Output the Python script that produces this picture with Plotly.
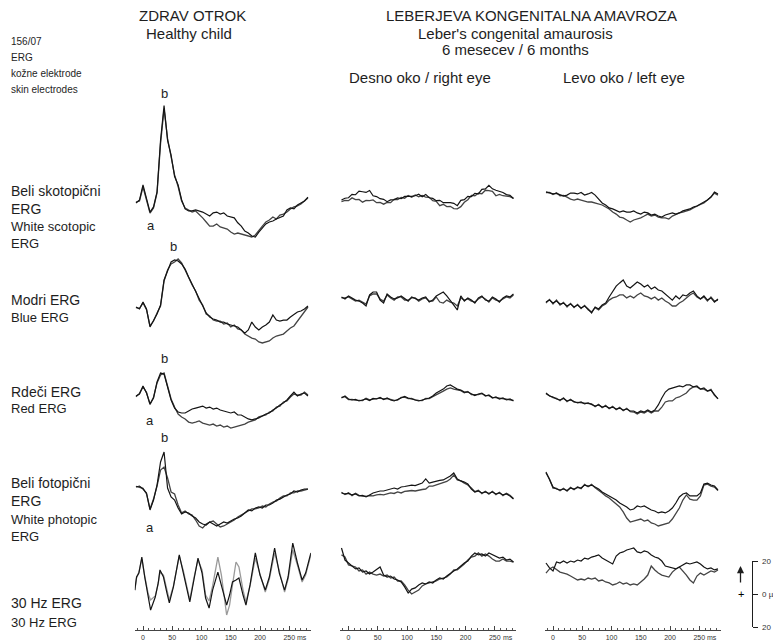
import plotly.graph_objects as go

# ---------------- data (time in ms, amplitude in microvolts) ----------------
T = list(range(-12, 283, 6))  # common sampling grid, 50 samples

# Row 1: white scotopic ERG
R1C1_A = [0, 1.8, 11, 2, -5.5, -2.4, 6.7, 38, 59, 38,
          29, 16, 11, 2, -3.6, -4.8, -4.8, -4.2, -4.8, -5.5,
          -6.7, -7.9, -6, -5.5, -6.7, -6, -7.9, -8.5, -9, -12,
          -14, -17, -18.2, -20, -20.6, -17.6, -15, -12.7, -11.5, -10.9,
          -9.7, -9, -7.9, -4.2, -3, -3.6, -1.2, 0, 1.2, 3.6]
R1C1_B = [0.6, 1.2, 9.7, 1.2, -6.1, -3, 6.1, 36, 57, 39,
          28, 17, 10, 1.2, -3, -4.2, -5.5, -4.8, -6.7, -9,
          -11.5, -14, -14, -12.7, -14.5, -15, -15.8, -17.6, -18.8, -18.2,
          -18.8, -19.4, -20, -20.6, -19.4, -16.4, -14, -11.5, -10.3, -8.5,
          -9.7, -7.3, -6.7, -5.5, -3.6, -2.4, -1.8, -0.6, 1.2, 3]
R1C2_A = [1.8, 2.9, 3.2, 5.2, 5, 7.2, 6.8, 6.4, 7.6, 4.4,
          3.9, 2.6, 2.2, 0.8, 1.9, 2.1, 3.1, 2.6, 4, 3.8,
          4, 4.4, 5.3, 3.8, 5.2, 3.2, 2.8, 1.4, 1.6, 0.2,
          0.4, 0.2, -0.2, -1.6, 1.6, 2, 4, 3.8, 5.9, 5.6,
          8.3, 8.6, 10.7, 8.6, 7.7, 6.9, 6.4, 5.1, 4.6, 2.7]
R1C2_B = [0.8, 1.6, 1.4, 3.1, 2.0, 2.2, 0.5, 1.6, 1.4, 1.9,
          0.2, 0.4, -0.7, 0.4, 0.2, 2.2, 2.0, 3.4, 2.9, 4.6,
          3.5, 4.9, 3.8, 4.6, 3.5, 3.4, 1.4, 1.0, -1.6, -0.8,
          -2.2, -2.0, -3.4, -3.5, -2.2, 0.4, 2.0, 4.6, 4.4, 5.9,
          5.6, 7.7, 7.5, 7.1, 4.4, 5.2, 4.4, 4.0, 3.8, 2.8]
R1C3_A = [6.7, 6, 5.5, 5.8, 4.8, 4.2, 4.8, 6, 6, 5.5,
          6.4, 4.8, 5.5, 6.4, 4.8, 2.4, 0, -1.2, -3, -3.6,
          -4.8, -5.5, -4.8, -5.5, -5.5, -4.8, -6, -6.7, -5.5, -6,
          -7.3, -6.7, -7.9, -8.5, -7.3, -6.7, -6, -6.7, -6, -4.8,
          -4.2, -3.6, -2.4, -1.8, -0.6, 0.6, 1.8, 3.6, 6.7, 5.5]
R1C3_B = [6.3, 6.4, 5.1, 6.2, 4.4, 4.6, 3.6, 2.4, 1.8, 2.4,
          1.8, 1.2, 0.6, 0.6, 0, -0.6, -1.2, -2.4, -3.6, -5.5,
          -6.7, -8.5, -9, -10.3, -11.5, -10.3, -9.7, -9, -7.9, -6.7,
          -7.9, -7.3, -8.5, -9, -9, -9.7, -7.9, -6.7, -6, -5.5,
          -4.8, -4.2, -3, -1.8, -0.9, 0, 1.8, 3.6, 6, 4.8]

# Row 2: blue ERG
R2C1_A = [0.6, -0.6, 3.6, -0.6, -11.5, -7.3, -3.6, 1.8, 17, 22.4,
          27.9, 29.1, 28.5, 26.7, 23.6, 18.8, 14.5, 9.7, 5.5, 1.2,
          -3, -5.5, -6.7, -7.3, -8.5, -8.5, -9.7, -10.3, -10.9, -11.5,
          -13.3, -15.2, -13.3, -8.5, -11.5, -13.3, -11.5, -10.3, -8.5, -4.2,
          -7.3, -7.9, -7.3, -7.3, -5.5, -4.2, -2.4, -1.8, -0.6, 1.2]
R2C1_B = [0.2, -0.2, 3.0, -1.0, -10.9, -7.9, -3.0, 1.2, 16.4, 23.0,
          26.7, 27.9, 29.7, 27.3, 23.0, 18.2, 13.9, 10.3, 4.8, 1.8,
          -3.6, -4.8, -7.3, -7.9, -7.9, -9.7, -9.1, -11.5, -10.3, -12.7,
          -13.3, -15.8, -17, -18.2, -18.8, -20.6, -21.2, -20.6, -20, -18.2,
          -17, -16.4, -15.8, -13.9, -12.1, -10.9, -7.9, -5.5, -2.4, 0.6]
R2C2_A = [6.7, 5.5, 7.3, 6.1, 4.8, 4.2, 3.0, 1.2, 7.9, 9.7,
          9.7, 4.8, 3.0, 8.5, 6.7, 5.5, 6.1, 7.3, 5.5, 4.2,
          6.7, 5.5, 4.8, 6.1, 6.7, 3.6, 4.8, 7.3, 8.5, 9.7,
          7.3, 4.8, 1.8, -1.2, 7.3, 4.2, 6.1, 4.8, 3.0, 6.1,
          7.3, 4.8, 4.2, 6.7, 5.5, 3.6, 6.1, 7.3, 6.7, 8.5]
R2C2_B = [6.1, 6.1, 6.7, 5.5, 4.2, 4.8, 3.6, 2.4, 7.3, 8.5,
          8.5, 5.5, 4.2, 7.9, 6.1, 4.8, 6.7, 6.7, 4.8, 4.8,
          6.1, 6.1, 4.2, 5.5, 6.1, 4.2, 4.2, 6.7, 3.6, 3.0,
          4.8, 3.6, 3.0, 1.2, 6.1, 4.8, 5.5, 4.2, 3.6, 5.5,
          6.7, 5.5, 3.6, 6.1, 4.8, 4.2, 5.5, 6.7, 6.1, 7.9]
R2C3_A = [3.6, 4.8, 3, 4.2, 2.4, 3, 1.2, 2.4, 0.6, 1.8,
          0, 1.2, -0.6, -3, 0.6, -0.6, 1.8, 3, 6.7, 10.3,
          13.3, 15.2, 17, 13.3, 12.1, 13.9, 15.8, 14.5, 12.7, 13.9,
          11.5, 12.7, 10.9, 10.3, 8.5, 6.7, 4.8, 7.3, 5.5, 7.9,
          7.3, 9.1, 10.3, 7.3, 5.5, 7.3, 4.8, 6.1, 3.6, 5.5]
R2C3_B = [3.0, 5.2, 2.4, 4.8, 1.8, 3.4, 0.6, 2.8, 0.2, 2.2,
          -0.4, 1.6, -1.0, -2.4, 0.2, -1.2, 1.2, 2.4, 4.8, 6.1,
          6.7, 7.9, 7.9, 6.1, 7.3, 6.1, 7.9, 9.1, 7.3, 6.7,
          5.5, 6.7, 4.8, 6.1, 4.2, 3, 1.2, 1.2, 3, 4.2,
          6.1, 7.9, 9.1, 6.7, 5.5, 6.7, 4.2, 6.7, 4.2, 4.8]

# Row 3: red ERG
R3C1_A = [0.6, 1.8, 6.7, 2.4, -4.2, -0.6, 9.1, 14.5, 13.9, 5.5,
          -1.8, -6.7, -9.1, -9.7, -9.7, -8.5, -7.3, -6.7, -6.1, -5.5,
          -6.7, -6.1, -7.3, -6.7, -7.9, -8.5, -9.1, -9.7, -9.1, -10.9,
          -10.9, -12.1, -13.3, -13.9, -13.3, -12.7, -11.5, -10.3, -9.7, -7.9,
          -6.7, -4.8, -3.6, -1.8, 0.6, 3, 0.6, 1.8, 2.4, 0.6]
R3C1_B = [0.2, 2.2, 6.1, 2.8, -4.6, -0.2, 8.5, 13.3, 14.5, 6.7,
          -1.2, -6.1, -10.3, -12.1, -13.3, -15.2, -15.8, -15.2, -14.5, -15.8,
          -16.4, -17, -16.4, -17.6, -17, -18.2, -17.6, -18.8, -18.2, -17.6,
          -17, -16.4, -15.2, -14.5, -13.9, -12.1, -11.5, -10.9, -9.1, -8.5,
          -6.1, -5.5, -3, -2.4, 0, 1.8, 1.2, 1.2, 3, 1.2]
R3C2_A = [-0.6, 0.6, -1.2, -1.8, -1.5, -2.4, -1.8, -1.2, -2.1, -0.9,
          -1.2, -0.3, -1.5, -0.6, -1.8, -2.4, -1.5, -0.6, 0.3, -0.6,
          -1.2, -2.1, -2.4, -1.8, -1.2, -0.6, 0.6, 2.4, 3.6, 4.8,
          6.7, 7.3, 6.1, 4.8, 4.2, 3, 3, 1.8, 0.9, 1.8,
          2.4, 0.6, 1.2, -0.6, 0, -1.2, -0.6, -1.8, -1.2, -2.4]
R3C2_B = [-0.2, 0.2, -1.6, -1.4, -1.9, -2.0, -2.2, -0.8, -1.7, -1.3,
          -0.8, -0.7, -1.1, -1.0, -1.4, -2.0, -1.9, -0.2, -0.1, -1.0,
          -0.8, -1.7, -2.0, -2.2, -0.8, -1.0, 0.2, 1.2, 2.4, 3.6,
          4.8, 5.5, 4.8, 4.2, 3.8, 2.6, 3.4, 1.4, 1.3, 1.4,
          2.0, 1.0, 0.8, -0.2, -0.4, -0.8, -1.0, -1.4, -1.6, -2.0]
R3C3_A = [2.4, 0.6, 0, -1.2, -1.8, -0.9, -2.4, -1.8, -2.7, -3.6,
          -3, -4.2, -3.6, -4.5, -5.5, -4.8, -6.1, -5.5, -6.7, -6.1,
          -7.3, -6.7, -7.9, -7.3, -8.5, -8.5, -9.7, -8.5, -9.1, -7.9,
          -9.1, -7.9, -4.8, -0.6, 3, 4.8, 5.5, 6.1, 6.7, 6.1,
          7.3, 7.3, 6.1, 6.7, 4.8, 5.5, 3.6, 4.2, 1.2, -1.2]
R3C3_B = [2.0, 1.0, -0.4, -0.8, -2.2, -0.5, -2.8, -1.4, -3.1, -3.2,
          -3.4, -3.8, -4.0, -4.1, -5.9, -4.4, -6.5, -5.1, -7.1, -5.7,
          -7.7, -6.3, -8.3, -6.9, -8.9, -9.1, -10.3, -9.1, -9.7, -8.5,
          -9.7, -8.5, -8.5, -6.1, -3, -2.4, -2.4, -0.6, 0, 1.2,
          2.4, 4.8, 6.1, 6.1, 4.8, 4.8, 3.6, 4.6, 1.0, -1.0]

# Row 4: white photopic ERG
R4C1_A = [1.8, 2.4, 0.6, -1.8, -12.1, -6.1, 3, 17, 23, 1.2,
          -4.2, -6.1, -10.9, -14.5, -13.3, -13.9, -15.8, -17, -19.4, -20.6,
          -21.2, -19.4, -20.6, -21.8, -20.6, -19.4, -20, -18.8, -17.6, -17,
          -15.8, -13.9, -12.1, -12.7, -10.9, -10.3, -10.9, -9.1, -9.1, -7.9,
          -6.1, -5.5, -4.2, -3, -2.4, -0.6, -1.2, 0, 0.6, 0.6]
R4C1_B = [2.2, 1.8, 1.0, -2.4, -11.5, -5.5, 2.4, 12.1, 13.9, 7.3,
          -1.2, -2.4, -9.1, -13.9, -12.7, -14.5, -15.2, -18.2, -21.8, -23,
          -20.6, -19.4, -18.8, -20.6, -22.4, -21.8, -20.6, -19.4, -18.2, -16.4,
          -15.2, -13.9, -12.7, -11.5, -11.5, -10.9, -9.7, -10.3, -8.5, -7.3,
          -6.7, -4.8, -3.6, -3.6, -1.8, -1.8, -0.6, -0.6, 0, 0.6]
R4C2_A = [-1.8, -2.4, -2.1, -3, -2.4, -3.6, -3.3, -4.2, -3, -1.8,
          -1.2, -0.6, -0.6, 0, 0.6, 1.2, 0.6, 1.8, 2.1, 2.4,
          3, 2.7, 3.6, 4.2, 6.7, 4.2, 4.8, 5.5, 5.8, 6.1,
          7.3, 8.5, 10.3, 6.7, 5.5, 4.8, 3.6, 0.6, -1.2, -0.6,
          -1.8, -1.2, -2.1, -1.2, -2.4, -1.8, -3, -2.4, -3.6, -5.5]
R4C2_B = [-1.4, -2.8, -1.7, -3.4, -2.0, -3.2, -3.7, -3.8, -3.4, -3.6,
          -3, -2.7, -3, -2.4, -1.8, -2.1, -1.2, -1.8, -0.9, -0.6,
          -0.3, -0.6, 0, 0.3, 0.6, 2.4, 2.4, 3, 3.6, 4.2,
          5.2, 6.7, 9.1, 6.1, 5.5, 4.2, 3.0, 1.2, -1.0, -0.2,
          -2.2, -0.8, -2.5, -0.8, -2.8, -1.4, -3.4, -2.0, -3.2, -5.1]
R4C3_A = [10.9, 6.1, 1.8, 0.6, 0, 0.6, -0.3, 1.2, 0.6, 1.5,
          1.2, 3, 2.4, 3, 1.8, 0.6, -1.2, -2.4, -3.6, -4.8,
          -6.1, -7.9, -9.1, -10.3, -12.1, -11.5, -9.7, -10.3, -9.7, -10.9,
          -12.1, -12.7, -13.9, -13.3, -13.9, -12.7, -10.9, -7.9, -4.2, -2.4,
          -1.8, -3.6, -3.6, -3.6, -1.8, 3.6, 4.2, 3, 2.4, 0]
R4C3_B = [10.3, 6.7, 1.2, 1.0, -0.4, 1.0, -0.7, 1.6, 0.2, 1.9,
          0.8, 3.4, 2.0, 3.4, 1.4, 0, -1.8, -3.6, -4.8, -6.7,
          -8.5, -10.3, -13.3, -17, -19.4, -18.8, -18.2, -17.6, -18.8, -18.2,
          -20, -20.6, -21.8, -21.2, -20.6, -20, -17.6, -13.9, -10.9, -6.1,
          -3, -5.5, -6.1, -6.1, -3.6, 3, 3.6, 2.4, 1.8, -0.4]

# Row 5: 30 Hz flicker ERG (healthy child read at its peaks and troughs)
T_30HZ = [-14, -11, -7, -2, 3, 9, 13, 21, 26, 29, 35, 41, 45, 52, 57, 62, 69, 76, 80, 87,
          94, 101, 107, 113, 119, 128, 134, 143, 148, 153, 159, 164, 171, 176, 183, 192,
          200, 209, 216, 225, 233, 242, 248, 256, 264, 272, 278, 287]
R5C1_A = [-6.1, 1.8, 4.2, 13.9, 1.8, -10.9, -18.2, -10.3, -1.8, 6.1, 1.8, -7.9, -13.9, -4.2,
          4.8, 15.2, 4.2, -6.1, -13.3, 0, 13.3, 4.2, -10.9, -17, -6.1, 4.8, -3, -15.2, -9.1,
          -1.2, 0, 1.2, -9.1, -15.2, -3, 16.4, 3, -6.1, 1.8, 19.4, 4.2, -6.1, 1.8, 22.4,
          10.3, 0, 4.2, 16.4]
R5C1_B = [-6.1, 1.2, 4.8, 12.7, 2.4, -8.5, -12.1, -9.7, -2.4, 4.8, 3.0, -6.7, -12.1, -3.6,
          5.5, 14.5, 5.5, -4.8, -12.1, 1.2, 12.1, 6.1, -9.1, -12.7, -3.6, 13.9, 3, -21.2, -15.2,
          -3, 10.9, 7.9, -6.1, -13.3, -3.6, 13.3, 4.2, -7.3, 0.6, 16.4, 5.5, -7.3, 0.6, 18.2,
          9.1, -1.2, 3, 15.2]
R5C2_A = [19.4, 12.1, 10.3, 8.5, 6.7, 7.3, 4.8, 5.5, 3.6, 4.8,
          6.1, 7.9, 3, 1.8, 2.4, 0.6, 0, -1.2, -4.2, -7.9,
          -5.5, -4.8, -3, -1.8, -2.4, -1.2, -1.8, 0, 1.2, 0.6,
          2.4, 4.2, 5.5, 6.7, 8.5, 10.3, 11.5, 14.5, 16.4, 15.2,
          15.8, 14.5, 16.4, 15.2, 14.5, 13.3, 13.9, 12.1, 12.7, 10.9]
R5C2_B = [15.2, 13.9, 9.1, 8.5, 7.9, 5.5, 6.1, 3.6, 4.8, 3.6,
          3, 3.6, 2.4, 3, 1.2, 1.8, -0.6, -0.6, -3, -6.1,
          -8.5, -7.3, -6.1, -3.6, -2.4, -1.8, -1.2, -0.6, 0.6, 1.2,
          1.8, 3.6, 6.1, 6.1, 7.9, 9.7, 12.1, 13.9, 14.5, 16.4,
          14.5, 15.8, 14.5, 12.7, 11.5, 11.5, 12.7, 11.5, 11.5, 10.9]
R5C3_A = [10.3, 7.3, 5.5, 10.9, 10.3, 11.5, 10.3, 11.5, 10.9, 12.1,
          11.5, 13.3, 12.7, 13.9, 14.5, 15.2, 13.3, 12.1, 10.9, 9.7,
          14.5, 16.4, 17, 18.2, 18.8, 19.4, 17, 16.4, 17.6, 17,
          15.2, 13.9, 13.3, 11.5, 8.5, 7.9, 7.3, 6.7, 7.9, 9.1,
          10.3, 9.7, 10.3, 10.9, 9.7, 7.9, 6.7, 7.3, 6.1, 6.7]
R5C3_B = [4.2, 6.7, 7.9, 6.1, 4.8, 4.2, 3.6, 2.4, 1.2, 0,
          0.6, 0, 1.2, 0.6, 1.2, -0.6, 0, -1.2, -1.8, -3,
          -2.4, -1.2, -2.4, -1.8, -3, -2.4, -3, -1.2, 0.6, 3,
          8.5, 6.1, 4.2, 3, 2.4, 1.8, 4.8, 6.7, 7.9, 5.5,
          3, 0, -1.8, 2.4, 4.2, 3, 4.2, 5.5, 4.8, 6.1]

TIME_TICKS = [0, 50, 100, 150, 200, 250]
SCALE_TICKS = [-20, 0, 20]
SCALE_LABELS = ["20", "0 µV", "20"]

COLUMN_TITLES = ["Desno oko / right eye", "Levo oko / left eye"]
ROW_LABELS = [("Beli skotopični<br>ERG", "White scotopic<br>ERG"),
              ("Modri ERG", "Blue ERG"),
              ("Rdeči ERG", "Red ERG"),
              ("Beli fotopični<br>ERG", "White photopic<br>ERG"),
              ("30 Hz ERG", "30 Hz ERG")]

# ---------------- layout geometry ----------------
# The page body has an 8 px default margin, so the figure is 8 px smaller on
# each axis and every position below (given in window pixels) is shifted by 8.
OFF = 8
W, H = 781 - OFF, 644 - OFF
PX_PER_UV = 1.65
PX_PER_MS = 0.585
T_RANGE = [-14, 287]
COL_ZERO_PX = [143, 348.5, 553]
ROW_BASE_PX = [203, 308, 397, 490, 580]
ROW_RANGE = [(-25, 65), (-25, 65), (-25, 65), (-25, 65), (-30.5, 65)]
FONT = "Liberation Sans, Arial, sans-serif"
INK = "#1e1e1e"


def px(x):
    return (x - OFF) / W


def py(y):
    return 1 - (y - OFF) / H


panels = [
    [(T, R1C1_A, R1C1_B), (T, R1C2_A, R1C2_B), (T, R1C3_A, R1C3_B)],
    [(T, R2C1_A, R2C1_B), (T, R2C2_A, R2C2_B), (T, R2C3_A, R2C3_B)],
    [(T, R3C1_A, R3C1_B), (T, R3C2_A, R3C2_B), (T, R3C3_A, R3C3_B)],
    [(T, R4C1_A, R4C1_B), (T, R4C2_A, R4C2_B), (T, R4C3_A, R4C3_B)],
    [(T_30HZ, R5C1_A, R5C1_B), (T, R5C2_A, R5C2_B), (T, R5C3_A, R5C3_B)],
]

fig = go.Figure()
layout = {}
for r in range(5):
    for c in range(3):
        p = r * 3 + c + 1
        sfx = "" if p == 1 else str(p)
        tt, a, b = panels[r][c]
        second_color = "#9a9a9a" if (r == 4 and c == 0) else "#444444"
        fig.add_trace(go.Scatter(x=tt, y=b, mode="lines", xaxis="x" + sfx, yaxis="y" + sfx,
                                 line=dict(color=second_color, width=1.3), showlegend=False,
                                 hoverinfo="skip"))
        fig.add_trace(go.Scatter(x=tt, y=a, mode="lines", xaxis="x" + sfx, yaxis="y" + sfx,
                                 line=dict(color="#141414", width=1.2), showlegend=False,
                                 hoverinfo="skip"))
        z = COL_ZERO_PX[c]
        xd = [px(z + T_RANGE[0] * PX_PER_MS), px(z + T_RANGE[1] * PX_PER_MS)]
        lo, hi = ROW_RANGE[r]
        top = ROW_BASE_PX[r] - hi * PX_PER_UV
        bot = ROW_BASE_PX[r] - lo * PX_PER_UV
        yd = [py(bot), py(top)]
        xa = dict(domain=xd, range=T_RANGE, anchor="y" + sfx, showgrid=False, zeroline=False,
                  fixedrange=True)
        if r == 4:
            xa.update(visible=True, showline=True, linecolor="#444", linewidth=1,
                      tickmode="array", tickvals=TIME_TICKS, ticks="inside", ticklen=4,
                      tickcolor="#444", tickfont=dict(family=FONT, size=7, color="#333"),
                      minor=dict(tickmode="linear", tick0=0, dtick=10, ticks="inside",
                                 ticklen=2, tickcolor="#555"))
        else:
            xa.update(visible=False)
        layout["xaxis" + sfx] = xa
        layout["yaxis" + sfx] = dict(domain=yd, range=[lo, hi], anchor="x" + sfx, visible=False,
                                     fixedrange=True)

# scale bar axis (labels drawn as annotations so they sit close to the bar)
fig.add_trace(go.Scatter(x=[None], y=[None], xaxis="x16", yaxis="y16", showlegend=False,
                         hoverinfo="skip"))
layout["xaxis16"] = dict(domain=[px(744), px(752)], range=[0, 1], anchor="y16", visible=False)
layout["yaxis16"] = dict(domain=[py(627), py(561)], range=[-20, 20], anchor="x16",
                         side="right", showline=True, linecolor=INK, linewidth=1.2,
                         ticks="outside", ticklen=5, tickcolor=INK, tickmode="array",
                         tickvals=SCALE_TICKS, showticklabels=False, showgrid=False,
                         zeroline=False)

ann = []


def text(x, y, s, size, anchor="center", color=INK):
    ann.append(dict(x=px(x), y=py(y), xref="paper", yref="paper", text=s, showarrow=False,
                    xanchor=anchor, yanchor="middle", align=anchor if anchor != "center" else "center",
                    font=dict(family=FONT, size=size, color=color)))


text(192, 16, "ZDRAV OTROK", 15)
text(189, 33, "Healthy child", 15)
text(531, 16, "LEBERJEVA KONGENITALNA AMAVROZA", 15)
text(515, 33.5, "Leber's congenital amaurosis", 15)
text(515, 50, "6 mesecev / 6 months", 15)
text(420, 77, COLUMN_TITLES[0], 15)
text(624, 77, COLUMN_TITLES[1], 15)

text(9, 42, "156/07", 10, anchor="left")
text(9, 58, "ERG", 10, anchor="left")
text(9, 74, "kožne elektrode", 10, anchor="left")
text(9, 90, "skin electrodes", 10, anchor="left")

main_y = [200, 300, 392, 492, 603]
sub_y = [235, 317, 408, 528, 622]
for (m, s), my, sy in zip(ROW_LABELS, main_y, sub_y):
    text(9, my, m, 14, anchor="left")
    text(9, sy, s, 13, anchor="left")

for (lx, ly, s) in [(164.5, 94, "b"), (151, 225, "a"), (173, 246, "b"), (164, 358, "b"),
                    (150, 420, "a"), (164, 437, "b"), (149.5, 527, "a")]:
    text(lx, ly, s, 13)

# "ms" unit after the last time label of each bottom axis
for p in (13, 14, 15):
    ann.append(dict(x=272, xref="x%d" % p, y=py(637), yref="paper", text="ms",
                    showarrow=False, xanchor="center", yanchor="middle",
                    font=dict(family=FONT, size=7, color="#333")))

# scale bar labels
for yv, lab in zip([561, 594, 627], SCALE_LABELS):
    text(760, yv, lab, 8, anchor="left", color="#333")

# polarity arrow and + sign
ann.append(dict(x=px(740.5), y=py(566), xref="paper", yref="paper", text="", showarrow=True,
                ax=0, ay=18, arrowhead=2, arrowsize=1.1, arrowwidth=1.3, arrowcolor=INK))
text(740.5, 594, "+", 11, color="#000000")

fig.update_layout(**layout)
fig.update_layout(width=W, height=H, margin=dict(l=0, r=0, t=0, b=0), paper_bgcolor="white",
                  plot_bgcolor="rgba(0,0,0,0)", annotations=ann, showlegend=False,
                  font=dict(family=FONT, color=INK))
fig.write_html("out.html")
